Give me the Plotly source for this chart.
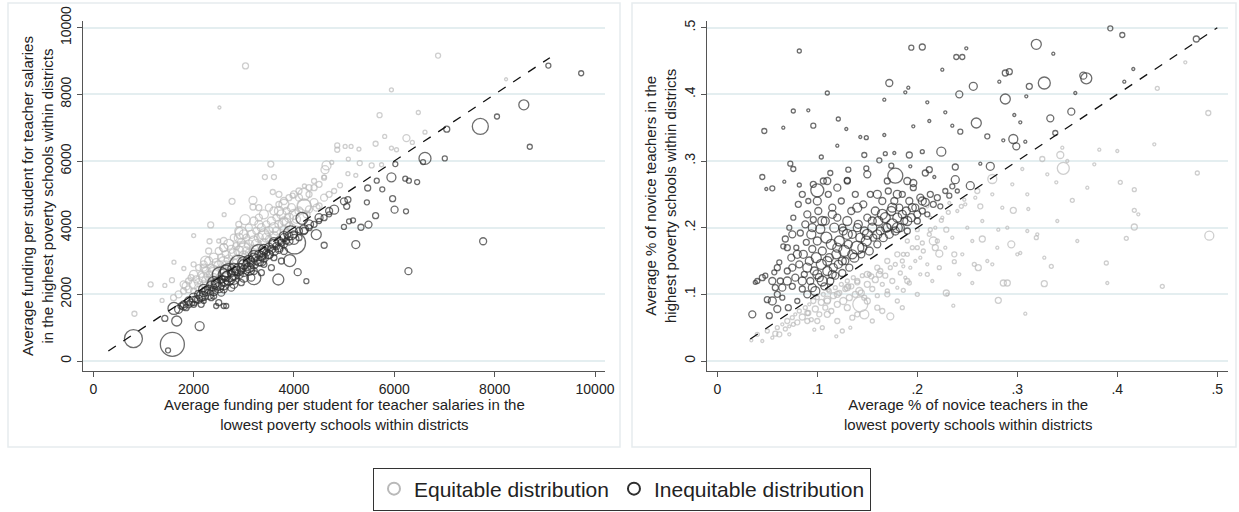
import plotly.graph_objects as go

W, H = 1239, 512

# ---------------- Left panel data (funding per student) ----------------
# Equitable distribution (light gray)
fund_eq_x = [1600,1700,1800,1850,1900,2000,2050,2100,2150,2200,2250,2300,2350,2400,2450,2500,2550,2600,2650,2700,
             2750,2800,2850,2900,2950,3000,3050,3100,3150,3200,3250,3300,3350,3400,3450,3500,3550,3600,3650,3700,
             3750,3800,3850,3900,3950,4000,4100,4200,4300,4400,4500,4600,4700,4800,
             2000,2200,2400,2600,2800,3000,3200,3400,3600,3800,2300,2700,3100,3500,3900,
             3034,6872,2514,5942,8227,5706,6478,5808,6241,6359,5627,4862,4862,5020,5138,6611,5295,5942,6044,
             3538,3420,3601,4649,4618,4752,5083,5311,5548,5745,5232,5075,4917,4602,4208,3577,3183,3183,2766,
             2608,2340,2001,2317,2500,1568,1608,1143,1426,820,1371,1805,4208,3972,2947,3026,2238,
             2900,3300,3700,4100,4400,2600,2200,1950,3800,4300]
fund_eq_y = [1900,2000,2100,2250,2150,2300,2450,2350,2600,2500,2700,2550,2800,2700,2950,2850,3100,2950,3200,3050,
             3350,3200,3450,3300,3550,3400,3700,3500,3800,3600,3900,3700,4000,3800,4100,3900,4200,4000,4300,4100,
             4400,4200,4500,4300,4600,4400,4500,4650,4550,4750,4650,4900,5000,5100,
             2100,2300,2500,2750,2950,3150,3350,3550,3750,3950,2450,2850,3250,3650,4050,
             8852,9162,7605,8134,8453,7375,7455,6737,6687,6557,6517,6467,6337,6437,6437,6866,6357,6387,6337,
             5908,5519,5519,5868,5739,5958,6058,5938,5868,5888,5569,5619,5270,5519,5250,5070,4820,4620,4790,
             4391,4082,3762,3593,3600,2425,2964,2296,2266,1417,1816,2775,4640,4960,3842,4241,2994,
             3700,4100,4500,4900,5200,3400,2800,2500,4700,5000]
fund_eq_s = [6,7,6,8,7,9,7,8,6,10,8,9,7,11,8,10,7,12,8,9,
             8,11,7,10,8,12,7,9,8,10,7,9,8,11,7,9,8,10,7,8,
             9,8,7,9,8,10,8,14,7,8,6,7,6,5,
             6,7,8,9,8,10,9,8,9,8,6,7,7,7,7,
             6,5,3,4,3,5,4,4,7,4,5,5,5,4,4,4,4,4,4,
             6,5,5,9,8,4,4,5,5,4,4,4,5,4,4,5,8,6,6,
             4,6,4,5,4,5,4,5,4,5,4,4,14,5,12,10,10,
             9,8,9,7,6,8,7,6,10,6]
# extra equitable points filling the dense band above the diagonal
fund_eq_core_x = [1800,1900,2000,2100,2200,2300,2400,2500,2600,2700,2800,2900,3000,3100,3200,3300,3400,3500,3600,3700,
                  3800,3900,4000,4100,4200,4300,4400,4500,4600,
                  2100,2250,2450,2650,2850,3050,3250,3450,3650,3850,4050,4250,4450,
                  2600,2900,3300,3700,2300,2000,3000,3400,2400,3800,4100]
fund_eq_core_y = [2300,2400,2600,2800,2900,3000,3100,3300,3400,3500,3700,3900,3800,4000,4200,4300,4400,4600,4500,4700,
                  4800,4900,5000,5100,5000,5200,5400,5300,5500,
                  2200,2400,2650,2850,3050,3300,3500,3700,3900,4150,4250,4400,4600,
                  3600,4100,4600,5000,3300,2900,3300,3700,2600,4100,4300]
fund_eq_core_s = [7,6,8,6,7,8,9,7,8,10,7,8,9,7,8,7,9,7,8,6,
                  7,6,7,6,12,6,5,6,5,
                  8,9,8,10,9,8,10,9,8,9,8,7,7,
                  7,6,6,6,6,5,16,14,14,12,18]

# Inequitable distribution (dark)
fund_in_x = [1700,1750,1800,1850,1900,1950,2000,2050,2100,2150,2200,2250,2300,2350,2400,2450,2500,2550,2600,2650,
             2700,2750,2800,2850,2900,2950,3000,3050,3100,3150,3200,3250,3300,3350,3400,3450,3500,3550,3600,3650,
             3700,3750,3800,3850,
             2000,2200,2400,2600,2800,3000,3200,3400,3600,3800,
             2530,3200,2900,2650,3350,2450,3100,
             800,1576,1490,1663,2120,1426,1608,2450,2650,3688,3916,4074,4247,4011,3932,4160,4602,4444,4800,
             4996,5075,5051,4996,5098,5177,5232,5335,5485,5627,5469,5453,5760,5650,5942,5966,6005,6233,6218,
             6290,6455,6020,6281,6611,6572,7006,7045,7714,7770,8046,8581,8700,9070,9724,
             3900,4100,4300,4500,4700,3500,3700,4000,4200]
fund_in_y = [1550,1650,1700,1600,1800,1750,1900,1850,2000,1950,2050,2100,2150,2250,2200,2350,2300,2450,2400,2550,
             2500,2650,2600,2700,2750,2800,2900,2850,3000,2950,3100,3050,3200,3150,3300,3250,3400,3350,3500,3450,
             3600,3550,3700,3600,
             1700,1800,1950,2150,2300,2500,2700,2900,3100,3300,
             2580,2500,2900,2700,3000,2300,2750,
             670,500,320,1200,1048,1277,1577,1650,1650,2445,3014,2665,2395,3543,3842,4281,3473,3792,4540,
             4790,4840,4640,4022,4191,4221,3493,4012,4092,4361,5190,4760,5150,5409,5509,4870,4541,4491,5469,
             5409,5369,5908,2695,6078,5968,6078,6956,7036,3593,7335,7685,6427,8862,8633,
             3750,3900,4100,4300,4500,3200,3350,3650,3950]
fund_in_s = [8,6,7,6,8,7,9,7,8,10,8,9,8,10,7,9,12,8,10,9,
             14,8,11,9,12,8,10,9,11,8,9,10,8,9,8,7,9,8,10,7,
             8,7,8,6,
             6,5,6,7,8,9,7,6,6,7,
             16,14,18,12,10,10,12,
             18,24,5,10,9,6,12,5,5,11,12,7,5,22,14,12,6,10,9,
             7,6,6,5,5,5,8,6,7,6,6,5,5,5,9,6,7,5,5,
             5,5,5,7,12,5,5,6,16,7,5,10,5,5,5,
             8,7,9,8,7,9,8,10,9]
# extra inequitable points filling the dense band below the diagonal
fund_in_core_x = [1800,1900,2000,2100,2200,2300,2400,2500,2600,2700,2800,2900,3000,3100,3200,3300,3400,3500,3600,3700,
                  3800,3900,4000,4100,4200,4300,4400,4500,4600,4700,
                  2200,2400,2600,2800,3000,3200,3400,3600,3800,
                  2350,2550,2750,2950,3150,3350,3550,3750,2150,2600,2500,2700,3300]
fund_in_core_y = [1650,1700,1800,1850,1950,2000,2100,2200,2300,2400,2450,2600,2700,2800,2900,3000,3100,3200,3300,3400,
                  3500,3600,3800,3700,3900,4000,4100,4200,4300,4400,
                  2150,2350,2600,2750,2950,3150,3350,3550,3750,
                  1900,2050,2200,2350,2500,2650,2800,3000,1700,1650,1750,2650,3250]
fund_in_core_s = [8,7,9,8,9,10,9,10,11,9,10,9,11,10,9,10,9,8,9,8,
                  7,8,7,6,7,6,6,5,6,5,
                  10,12,11,12,12,11,10,10,9,
                  6,7,7,6,7,6,6,6,6,5,6,18,16]

# ---------------- Right panel data (novice teachers) ----------------
nov_in_x = [0.082,0.194,0.205,0.239,0.245,0.249,0.225,0.319,0.336,0.393,0.405,0.416,0.479,0.327,0.369,0.366,0.288,0.292,
            0.256,0.242,0.288,0.172,0.188,0.191,0.110,0.167,0.210,0.282,0.309,0.312,0.358,0.407,0.333,0.354,0.338,
            0.259,0.270,0.243,0.228,0.235,0.212,0.196,0.296,0.299,0.286,0.308,0.303,0.297,0.047,0.066,0.076,0.091,
            0.096,0.121,0.129,0.143,0.149,0.167,0.147,0.168,0.177,0.192,0.205,0.224,0.238,0.238,0.253,0.273,0.263,
            0.120,0.104,0.073,0.076,0.045,0.049,0.055,0.067,0.100,0.096,0.082,0.113,0.130,0.131,0.149,0.178,0.162,
            0.174,0.196,0.208,0.212,0.193,0.217,
            0.035,0.038,0.040,0.045,0.048,0.050,0.052,0.055,0.057,0.058,0.060,0.062,0.063,0.065,0.066,0.068,0.070,
            0.071,0.072,0.074,0.075,0.076,0.078,0.079,0.080,0.081,0.082,0.083,0.085,0.086,0.087,0.088,0.089,0.090,
            0.091,0.092,0.093,0.094,0.095,0.096,0.097,0.098,0.099,0.100,0.101,0.102,0.103,0.104,0.105,0.106,0.107,
            0.108,0.109,0.110,0.111,0.112,0.113,0.114,0.115,0.116,0.117,0.118,0.119,0.120,0.121,0.122,0.124,0.125,
            0.126,0.127,0.128,0.130,0.131,0.132,0.134,0.135,0.137,0.138,0.140,0.141,0.143,0.144,0.146,0.147,0.149,
            0.150,0.152,0.153,0.155,0.156,0.158,0.160,0.161,0.163,0.165,0.166,0.168,0.169,0.171,0.172,0.174,0.175,
            0.177,0.178,0.180,0.182,0.183,0.185,0.187,0.189,0.190,0.192,0.194,0.196,0.198,0.200,0.203,0.205,0.208,
            0.210,0.213,0.216,0.220,0.223,0.228,0.232,0.235,0.240,
            0.085,0.090,0.095,0.100,0.105,0.110,0.115,0.120,0.125,0.130,0.135,0.140,0.145,0.150,0.155,0.160,0.165,
            0.170,0.175,0.180,0.185,0.190,0.195,0.200,0.205,0.095,0.105,0.115,0.125,0.080,0.075,0.070,0.065,0.060,
            0.055,0.100,0.120,0.140,0.160,0.180,0.090,0.085,0.110,0.130,0.150,0.170,0.190,0.070,0.060,0.075]
nov_in_y = [0.465,0.470,0.471,0.456,0.456,0.469,0.437,0.475,0.461,0.499,0.489,0.438,0.483,0.417,0.424,0.428,0.432,0.434,
            0.412,0.400,0.393,0.417,0.403,0.410,0.402,0.392,0.388,0.419,0.397,0.412,0.402,0.419,0.364,0.374,0.342,
            0.357,0.337,0.344,0.373,0.353,0.360,0.352,0.333,0.322,0.331,0.329,0.358,0.369,0.345,0.350,0.375,0.376,
            0.353,0.363,0.348,0.336,0.335,0.339,0.309,0.311,0.312,0.309,0.314,0.314,0.291,0.272,0.263,0.292,0.296,
            0.323,0.306,0.296,0.288,0.276,0.258,0.259,0.269,0.256,0.265,0.264,0.282,0.271,0.287,0.289,0.278,0.301,
            0.293,0.267,0.282,0.287,0.292,0.276,
            0.070,0.118,0.120,0.125,0.128,0.092,0.068,0.090,0.133,0.110,0.078,0.148,0.120,0.095,0.172,0.183,0.135,
            0.080,0.200,0.155,0.112,0.215,0.125,0.170,0.090,0.235,0.145,0.192,0.108,0.160,0.130,0.205,0.178,0.100,
            0.240,0.150,0.120,0.190,0.168,0.212,0.135,0.105,0.155,0.180,0.225,0.125,0.198,0.145,0.165,0.270,0.112,
            0.210,0.185,0.135,0.250,0.155,0.120,0.175,0.230,0.140,0.200,0.128,0.160,0.215,0.145,0.180,0.240,0.132,
            0.195,0.165,0.150,0.210,0.175,0.140,0.225,0.190,0.155,0.250,0.170,0.205,0.185,0.160,0.235,0.195,0.180,
            0.215,0.165,0.250,0.200,0.185,0.225,0.175,0.210,0.195,0.240,0.185,0.215,0.200,0.255,0.190,0.225,0.205,
            0.240,0.195,0.215,0.230,0.200,0.250,0.210,0.225,0.195,0.240,0.215,0.260,0.230,0.210,0.245,0.225,0.238,
            0.220,0.250,0.235,0.245,0.232,0.255,0.248,0.262,0.255,
            0.120,0.140,0.110,0.130,0.120,0.150,0.130,0.170,0.150,0.190,0.160,0.200,0.170,0.190,0.210,0.190,0.220,
            0.200,0.230,0.200,0.220,0.210,0.230,0.220,0.240,0.200,0.210,0.220,0.200,0.160,0.140,0.120,0.110,0.100,
            0.120,0.240,0.260,0.230,0.250,0.250,0.220,0.250,0.270,0.270,0.280,0.270,0.270,0.170,0.140,0.190]
nov_in_s = [4,5,6,5,5,3,3,10,3,5,5,3,6,12,11,7,6,6,
            8,7,10,7,3,3,4,3,3,3,3,6,3,3,7,7,5,
            10,5,5,3,3,3,3,9,7,3,3,3,3,5,3,4,3,
            5,4,3,3,4,3,5,4,3,6,4,9,6,8,8,8,3,
            3,4,5,5,5,3,5,3,13,6,4,5,6,5,5,15,5,
            5,7,6,6,3,3,
            7,4,5,6,5,6,6,8,5,6,7,5,6,5,5,6,6,
            6,5,7,6,5,7,5,5,6,7,6,6,8,6,7,6,7,
            5,8,7,9,7,6,8,9,10,8,7,8,9,10,8,6,7,
            8,11,9,6,8,7,10,7,8,9,7,9,7,8,10,6,7,
            8,11,7,9,8,7,7,8,9,6,13,8,9,7,7,8,10,
            7,8,6,9,7,8,7,9,8,7,8,10,9,6,8,9,11,
            7,8,9,7,8,6,7,8,6,7,8,6,7,6,7,6,8,
            5,6,6,6,5,5,5,5,4,
            8,9,8,9,10,9,8,9,8,10,9,8,9,10,8,9,10,
            8,9,10,8,9,8,7,8,8,9,8,7,8,7,8,7,6,
            7,8,7,9,8,8,7,6,7,6,7,6,7,6,6,7]

nov_eq_x = [0.346,0.343,0.275,0.260,0.325,0.345,0.296,0.311,0.305,0.339,0.355,0.377,0.382,0.400,0.403,0.417,0.417,0.421,
            0.417,0.409,0.440,0.437,0.468,0.491,0.492,0.480,0.445,0.389,0.390,0.327,0.308,0.281,0.286,0.290,0.294,
            0.303,0.310,0.319,0.327,0.334,0.281,0.275,0.265,0.257,0.261,0.255,0.237,0.237,0.229,0.236,0.222,0.216,
            0.218,0.229,0.224,0.205,0.203,0.186,0.192,0.186,0.173,0.147,0.143,0.144,0.131,0.111,0.091,0.076,0.058,
            0.072,0.097,0.119,0.133,0.034,0.162,0.154,0.186,0.200,0.213,0.210,0.213,0.231,0.232,0.244,0.247,0.263,
            0.040,0.045,0.050,0.055,0.060,0.062,0.065,0.068,0.070,0.072,0.075,0.078,0.080,0.082,0.085,0.088,0.090,
            0.092,0.094,0.096,0.098,0.100,0.102,0.104,0.106,0.108,0.110,0.112,0.114,0.116,0.118,0.120,0.122,0.124,
            0.126,0.128,0.130,0.132,0.134,0.136,0.138,0.140,0.142,0.145,0.147,0.150,0.152,0.155,0.158,0.160,0.163,
            0.165,0.168,0.170,0.173,0.175,0.178,0.180,0.183,0.185,0.188,0.190,0.193,0.195,0.198,0.200,0.203,0.206,
            0.210,0.212,0.215,0.218,0.222,0.225,0.228,0.230,0.235,0.240,0.242,0.245,0.248,0.250,0.255,0.258,0.265,
            0.270,0.275,0.280,0.285,0.290,0.295,0.300,0.310,0.320,0.330,0.340,0.350,0.360,0.370,
            0.100,0.110,0.120,0.130,0.140,0.150,0.160,0.170,0.180,0.190,0.200,0.120,0.140,0.160,0.180,0.200,0.210,
            0.220,0.090,0.110,0.130,0.150,0.170,0.190,0.105,0.125,0.135,0.155,0.165,0.185]
nov_eq_y = [0.289,0.309,0.273,0.255,0.303,0.320,0.226,0.228,0.288,0.268,0.241,0.295,0.317,0.315,0.268,0.257,0.226,0.220,
            0.201,0.184,0.409,0.325,0.448,0.372,0.188,0.282,0.112,0.147,0.117,0.116,0.071,0.091,0.117,0.117,0.175,
            0.162,0.195,0.185,0.155,0.142,0.197,0.145,0.183,0.145,0.140,0.117,0.160,0.149,0.102,0.083,0.161,0.180,
            0.170,0.197,0.211,0.177,0.155,0.142,0.117,0.106,0.067,0.070,0.085,0.102,0.112,0.107,0.072,0.055,0.041,
            0.040,0.047,0.037,0.050,0.031,0.130,0.127,0.160,0.197,0.197,0.232,0.215,0.223,0.237,0.232,0.242,0.232,
            0.040,0.030,0.045,0.035,0.050,0.040,0.055,0.048,0.060,0.052,0.065,0.070,0.058,0.075,0.066,0.080,0.072,
            0.085,0.062,0.090,0.078,0.095,0.070,0.088,0.100,0.080,0.092,0.105,0.075,0.098,0.110,0.085,0.102,0.115,
            0.090,0.108,0.120,0.095,0.112,0.125,0.100,0.118,0.105,0.128,0.095,0.115,0.130,0.108,0.122,0.098,0.135,
            0.115,0.128,0.105,0.140,0.120,0.145,0.110,0.132,0.150,0.125,0.160,0.140,0.170,0.150,0.185,0.130,0.165,
            0.145,0.190,0.120,0.200,0.140,0.215,0.170,0.100,0.185,0.225,0.130,0.160,0.235,0.200,0.180,0.245,0.210,
            0.150,0.250,0.170,0.230,0.200,0.265,0.160,0.250,0.190,0.280,0.210,0.300,0.180,0.260,
            0.060,0.070,0.060,0.080,0.070,0.090,0.080,0.100,0.090,0.120,0.100,0.100,0.120,0.140,0.160,0.170,0.130,
            0.180,0.060,0.090,0.110,0.130,0.150,0.180,0.050,0.045,0.065,0.060,0.075,0.080]
nov_eq_s = [12,7,9,5,5,3,6,3,3,3,4,3,3,3,4,4,4,3,
            6,4,4,3,3,5,9,4,4,4,3,6,3,6,6,6,7,
            3,3,4,3,4,3,3,6,4,6,3,5,4,6,3,7,8,
            6,5,4,4,3,3,4,4,7,9,15,6,5,4,5,4,5,
            3,3,3,3,3,6,5,4,4,4,3,3,4,3,4,3,5,
            4,3,4,3,4,5,3,4,5,3,4,3,5,4,6,4,5,
            3,4,5,6,4,5,6,4,5,7,4,5,6,4,6,5,4,
            7,5,4,6,5,4,6,5,7,4,5,6,4,5,6,4,5,
            4,5,4,4,5,4,3,4,4,3,4,3,4,3,4,3,4,
            3,4,3,3,4,3,3,3,3,3,3,3,3,3,3,3,3,
            3,3,3,3,3,3,3,3,3,3,3,3,3,3,
            5,6,5,6,5,6,5,5,4,5,4,6,5,5,5,4,4,
            4,5,6,6,6,5,4,4,4,5,4,5,4]

fund_line = [300, 9100]
nov_line = [0.033, 0.5]

fund_ticks = [0, 2000, 4000, 6000, 8000, 10000]
fund_ticklabels = ["0", "2000", "4000", "6000", "8000", "10000"]
nov_ticks = [0, 0.1, 0.2, 0.3, 0.4, 0.5]
nov_ticklabels = ["0", ".1", ".2", ".3", ".4", ".5"]

LIGHT = "#b9b9b9"
DARK = "#2f2f2f"
FONT = "Liberation Sans, Arial, sans-serif"

fig = go.Figure()

def add_scatter(x, y, s, color, xa, ya):
    fig.add_trace(go.Scatter(
        x=x, y=y, mode="markers", xaxis=xa, yaxis=ya, showlegend=False, hoverinfo="skip",
        marker=dict(symbol="circle-open", size=s, color=color, line=dict(width=1.3, color=color))))

add_scatter(fund_eq_x, fund_eq_y, fund_eq_s, LIGHT, "x", "y")
add_scatter(fund_eq_core_x, fund_eq_core_y, fund_eq_core_s, LIGHT, "x", "y")
add_scatter(fund_in_x, fund_in_y, fund_in_s, DARK, "x", "y")
add_scatter(fund_in_core_x, fund_in_core_y, fund_in_core_s, DARK, "x", "y")
add_scatter(nov_eq_x, nov_eq_y, nov_eq_s, LIGHT, "x2", "y2")
add_scatter(nov_in_x, nov_in_y, nov_in_s, DARK, "x2", "y2")

fig.add_trace(go.Scatter(x=fund_line, y=fund_line, mode="lines", xaxis="x", yaxis="y", showlegend=False,
                         hoverinfo="skip", line=dict(color="#111111", width=1.3, dash="dash")))
fig.add_trace(go.Scatter(x=nov_line, y=nov_line, mode="lines", xaxis="x2", yaxis="y2", showlegend=False,
                         hoverinfo="skip", line=dict(color="#111111", width=1.3, dash="dash")))

# legend entries
for name, col in [("Equitable distribution", LIGHT), ("Inequitable distribution", DARK)]:
    fig.add_trace(go.Scatter(x=[None], y=[None], mode="markers", name=name, xaxis="x", yaxis="y",
                             marker=dict(symbol="circle-open", size=8, color=col, line=dict(width=1.5, color=col))))

def px_x(p):
    return p / W

def px_y(p):
    return 1 - p / H

axis_common = dict(showline=True, linecolor="#555555", linewidth=1, ticks="outside", ticklen=5,
                   tickcolor="#555555", tickfont=dict(family=FONT, size=14, color="#222222"),
                   zeroline=False, mirror=False, automargin=False, fixedrange=True)

title_font = dict(family=FONT, size=15, color="#222222")

fig.update_layout(
    template="none",
    width=W, height=H, autosize=False,
    margin=dict(l=0, r=0, t=0, b=0, pad=0, autoexpand=False),
    paper_bgcolor="white", plot_bgcolor="white",
    font=dict(family=FONT, color="#222222"),
    xaxis=dict(domain=[px_x(83), px_x(605)], range=[-205, 10199], tickvals=fund_ticks, ticktext=fund_ticklabels,
               showgrid=False, anchor="y", **axis_common),
    yaxis=dict(domain=[px_y(371), px_y(21)], range=[-300, 10200], tickvals=fund_ticks, ticktext=fund_ticklabels,
               tickangle=-90, showgrid=True, gridcolor="#e4eef0", gridwidth=1.5, anchor="x", **axis_common),
    xaxis2=dict(domain=[px_x(707), px_x(1228)], range=[-0.0103, 0.5107], tickvals=nov_ticks, ticktext=nov_ticklabels,
                showgrid=False, anchor="y2", **axis_common),
    yaxis2=dict(domain=[px_y(371), px_y(21)], range=[-0.015, 0.51], tickvals=nov_ticks, ticktext=nov_ticklabels,
                tickangle=-90, showgrid=True, gridcolor="#e4eef0", gridwidth=1.5, anchor="x2", **axis_common),
    legend=dict(orientation="h", x=px_x(622), xanchor="center", y=px_y(489), yanchor="middle",
                bordercolor="#333333", borderwidth=1, bgcolor="white",
                font=dict(family=FONT, size=21, color="#222222"), itemsizing="constant"),
    shapes=[
        dict(type="rect", xref="paper", yref="paper", x0=px_x(8), x1=px_x(620), y0=px_y(447), y1=px_y(3),
             line=dict(color="#e6ecee", width=1.5), layer="below"),
        dict(type="rect", xref="paper", yref="paper", x0=px_x(632), x1=px_x(1236), y0=px_y(447), y1=px_y(3),
             line=dict(color="#e6ecee", width=1.5), layer="below"),
    ],
    annotations=[
        dict(text="Average funding per student for teacher salaries in the<br>lowest poverty schools within districts",
             xref="paper", yref="paper", x=px_x(344), y=px_y(414), xanchor="center", yanchor="middle",
             showarrow=False, align="center", font=title_font),
        dict(text="Average funding per student for teacher salaries<br>in the highest poverty schools within districts",
             xref="paper", yref="paper", x=px_x(37), y=px_y(196), xanchor="center", yanchor="middle",
             showarrow=False, align="center", textangle=-90, font=title_font),
        dict(text="Average % of novice teachers in the<br>lowest poverty schools within districts",
             xref="paper", yref="paper", x=px_x(968), y=px_y(414), xanchor="center", yanchor="middle",
             showarrow=False, align="center", font=title_font),
        dict(text="Average % of novice teachers in the<br>highest poverty schools within districts",
             xref="paper", yref="paper", x=px_x(660), y=px_y(196), xanchor="center", yanchor="middle",
             showarrow=False, align="center", textangle=-90, font=title_font),
    ],
)

fig.write_html("out.html", config={"displayModeBar": False},
               post_script="document.body.style.margin='0px';document.body.style.overflow='hidden';")
